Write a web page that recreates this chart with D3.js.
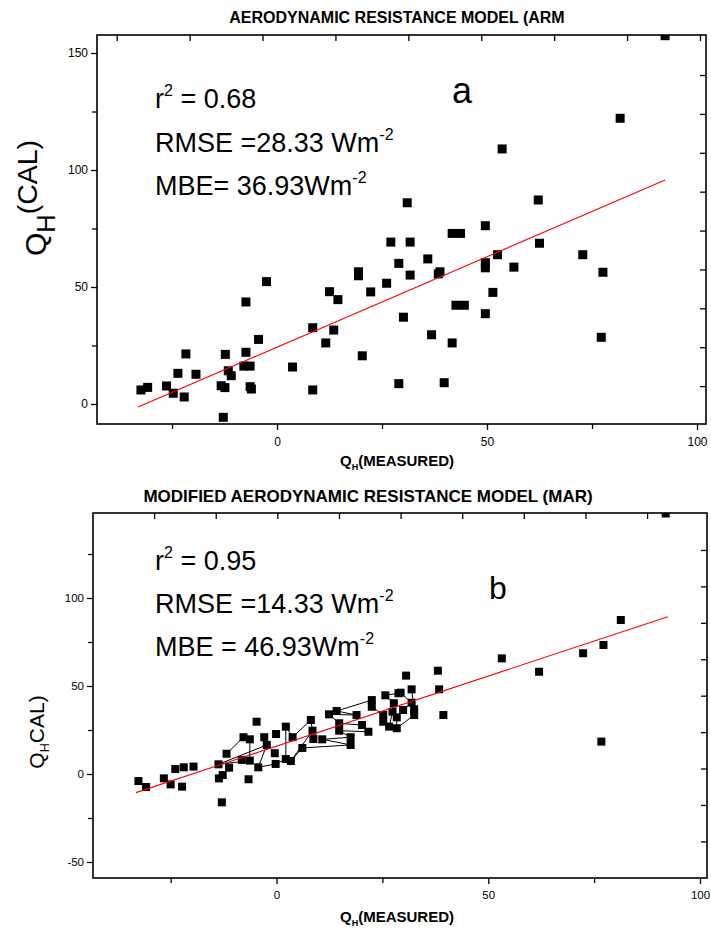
<!DOCTYPE html>
<html><head><meta charset="utf-8">
<script src="https://cdn.jsdelivr.net/npm/d3@7"></script>
<style>
body{margin:0;background:#fff;}
svg{display:block;font-family:"Liberation Sans",Arial,sans-serif;}
</style></head><body>
<svg id="c" width="711" height="943"></svg>
<script>
// ---------- DATA ----------
// Panel a: ARM
const ARM_X = [-32.4,-30.8,-26.3,-24.7,-23.6,-22.1,-21.7,-19.3,-13.3,-12.4,-12.8,-12.3,-11.6,-10.9,-7.9,-6.4,-7.4,-7.4,-6.4,-6.1,-4.4,-2.5,3.7,8.5,8.5,11.6,13.5,12.5,14.5,19.4,19.4,20.3,22.3,26.1,27.1,29.0,30.1,29.0,31.7,31.7,35.9,36.8,38.4,38.8,39.8,41.7,43.7,41.7,42.6,44.6,49.6,49.6,49.6,49.6,51.4,52.5,56.4,62.5,72.8,77.6,77.2,31.0,53.6,62.2,81.7,92.4];
const ARM_Y = [6.0,7.1,7.7,4.6,13.1,3.0,21.4,12.7,7.8,7.0,-5.7,21.2,14.2,12.1,16.2,16.2,22.1,43.6,7.4,6.4,27.6,52.3,15.8,32.6,6.0,26.1,31.6,48.0,44.6,56.5,54.8,20.6,47.9,51.6,69.2,60.1,37.1,8.7,69.2,55.1,62.0,29.6,55.6,56.5,9.1,72.9,72.9,26.1,42.2,42.2,76.2,60.4,58.2,38.6,47.7,63.8,58.5,68.7,63.8,56.3,28.5,86.0,109.0,87.2,122.1,157.4];
const ARM_FIT_X = [-33.1, 92.4];
const ARM_FIT_Y = [-1.3, 95.7];

// Panel b: MAR
const MAR_X = [-32.6,-30.8,-26.6,-25.0,-23.9,-21.9,-22.3,-19.6,-13.7,-12.9,-13.6,-12.7,-11.8,-11.2,-6.6,-7.8,-6.3,-4.7,-8.2,-6.3,-4.3,-2.9,-2.3,-0.1,-0.4,-0.2,2.2,2.2,3.4,3.8,6.1,8.1,8.5,8.7,10.8,12.4,14.2,14.8,14.8,17.5,17.5,18.9,20.2,21.7,22.5,22.5,25.7,25.2,25.2,26.6,27.7,28.4,28.8,27.4,30.6,29.3,31.9,38.1,38.4,29.9,31.9,32.5,32.5,28.4,39.4,62.0,53.2,76.7,91.9,81.3,77.2,72.4];
const MAR_Y = [-4.0,-7.4,-2.5,-5.9,2.8,3.8,-7.2,4.2,5.5,-16.1,-2.5,-0.6,11.5,3.6,-3.0,20.9,19.7,29.7,8.0,7.6,3.8,20.9,16.5,22.7,11.8,5.7,26.9,8.5,7.4,20.9,14.8,30.7,24.6,19.9,19.7,33.9,35.8,28.8,24.6,16.5,20.9,33.5,27.8,24.0,42.0,38.2,44.7,33.5,29.7,26.9,40.2,26.0,45.9,35.4,55.9,46.2,48.1,58.7,48.1,36.4,40.5,36.8,33.5,32.2,33.5,58.1,65.7,18.4,148.0,87.5,73.3,68.6];
// order in which the black line joins the points
const MAR_LINE_ORDER = [12,15,16,19,8,22,20,25,27,26,29,31,32,28,30,39,34,40,38,43,42,37,35,41,36,44,45,47,48,49,53,50,46,52,55,60,59,63,51,62,61,56];
const MAR_FIT_X = [-33.2, 92.4];
const MAR_FIT_Y = [-10.6, 89.4];

// Tick labels
const X_MAJOR = [0, 50, 100];
const X_MINOR = [-25, 25, 75];
const ARM_Y_MAJOR = [0, 50, 100, 150];
const ARM_Y_MINOR = [25, 75, 125];
const MAR_Y_MAJOR = [-50, 0, 50, 100];
const MAR_Y_MINOR = [-25, 25, 75, 125];

const TITLE_A = "AERODYNAMIC RESISTANCE MODEL (ARM";
const TITLE_B = "MODIFIED AERODYNAMIC RESISTANCE MODEL (MAR)";
const STATS_A = [["r","2"," = 0.68"],["RMSE =28.33 Wm","-2",""],["MBE= 36.93Wm","-2",""]];
const STATS_B = [["r","2"," = 0.95"],["RMSE =14.33 Wm","-2",""],["MBE = 46.93Wm","-2",""]];

// ---------- DRAW ----------
const svg = d3.select("#c");
const fmt = d => String(d);

function panel(cfg) {
  const g = svg.append("g");
  const x = d3.scaleLinear().domain(cfg.xDomain).range([cfg.left, cfg.right]);
  const y = d3.scaleLinear().domain(cfg.yDomain).range([cfg.bottom, cfg.top]);
  const clipId = "clip" + cfg.id;
  svg.append("clipPath").attr("id", clipId).append("rect")
    .attr("x", cfg.left).attr("y", cfg.top)
    .attr("width", cfg.right - cfg.left).attr("height", cfg.bottom - cfg.top);

  // bottom axis: major with labels, minor without
  const ax = g.append("g").attr("transform", `translate(0,${cfg.bottom})`)
    .call(d3.axisBottom(x).tickValues(X_MAJOR).tickSize(6).tickPadding(7).tickFormat(fmt));
  ax.select(".domain").remove();
  ax.selectAll("text").attr("font-size", cfg.tickFont).attr("font-family", "Liberation Sans, Arial, sans-serif");
  ax.selectAll("line").attr("stroke-width", 1.3);
  const axm = g.append("g").attr("transform", `translate(0,${cfg.bottom})`)
    .call(d3.axisBottom(x).tickValues(X_MINOR).tickSize(5).tickFormat(""));
  axm.select(".domain").remove();
  axm.selectAll("line").attr("stroke-width", 1.3);

  // left axis
  const ay = g.append("g").attr("transform", `translate(${cfg.left},0)`)
    .call(d3.axisLeft(y).tickValues(cfg.yMajor).tickSize(6).tickPadding(3).tickFormat(fmt));
  ay.select(".domain").remove();
  ay.selectAll("text").attr("font-size", cfg.tickFont).attr("font-family", "Liberation Sans, Arial, sans-serif");
  ay.selectAll("line").attr("stroke-width", 1.3);
  const aym = g.append("g").attr("transform", `translate(${cfg.left},0)`)
    .call(d3.axisLeft(y).tickValues(cfg.yMinor).tickSize(5).tickFormat(""));
  aym.select(".domain").remove();
  aym.selectAll("line").attr("stroke-width", 1.3);

  // top and right inward ticks
  const at = g.append("g").attr("transform", `translate(0,${cfg.top})`)
    .call(d3.axisTop(x).tickValues(cfg.topTicks).tickSize(-6).tickFormat(""));
  at.select(".domain").remove();
  at.selectAll("line").attr("stroke-width", 1.3);
  const ar = g.append("g").attr("transform", `translate(${cfg.right},0)`)
    .call(d3.axisRight(y).tickValues(cfg.rightTicks).tickSize(-6).tickFormat(""));
  ar.select(".domain").remove();
  ar.selectAll("line").attr("stroke-width", 1.3);

  // frame
  g.append("rect").attr("x", cfg.left).attr("y", cfg.top)
    .attr("width", cfg.right - cfg.left).attr("height", cfg.bottom - cfg.top)
    .attr("fill", "none").attr("stroke", "#000").attr("stroke-width", 1.6);

  const plot = g.append("g").attr("clip-path", `url(#${clipId})`);

  // connecting line (panel b)
  if (cfg.lineOrder) {
    plot.append("path")
      .datum(cfg.lineOrder.map(i => [cfg.xs[i], cfg.ys[i]]))
      .attr("fill", "none").attr("stroke", "#000").attr("stroke-width", 1)
      .attr("d", d3.line().x(d => x(d[0])).y(d => y(d[1])));
  }

  // points
  const s = cfg.sq;
  plot.selectAll("rect.pt").data(cfg.xs.map((v, i) => [v, cfg.ys[i]])).join("rect")
    .attr("class", "pt")
    .attr("x", d => x(d[0]) - s / 2).attr("y", d => y(d[1]) - s / 2)
    .attr("width", s).attr("height", s).attr("fill", "#000");

  // regression line
  plot.append("path")
    .datum(cfg.fitX.map((v, i) => [v, cfg.fitY[i]]))
    .attr("fill", "none").attr("stroke", "#ff0000").attr("stroke-width", 1.1)
    .attr("d", d3.line().x(d => x(d[0])).y(d => y(d[1])));

  // title
  g.append("text").attr("x", cfg.titleX).attr("y", cfg.titleY)
    .attr("text-anchor", "middle").attr("font-weight", "bold")
    .attr("font-size", cfg.titleFont).text(cfg.title);

  // stats
  cfg.stats.forEach((st, i) => {
    const t = g.append("text").attr("x", cfg.statsX).attr("y", cfg.statsY + i * cfg.statsDy)
      .attr("font-size", 27);
    t.append("tspan").text(st[0]);
    t.append("tspan").attr("font-size", 16).attr("dy", -12).text(st[1]);
    if (st[2]) t.append("tspan").attr("dy", 12).text(st[2]);
  });

  // panel letter
  g.append("text").attr("x", cfg.letterX).attr("y", cfg.letterY)
    .attr("font-size", cfg.letterFont).text(cfg.letter);

  // x title
  const xt = g.append("text").attr("x", cfg.xTitleX).attr("y", cfg.xTitleY)
    .attr("text-anchor", "middle").attr("font-weight", "bold").attr("font-size", 15);
  xt.append("tspan").text("Q");
  xt.append("tspan").attr("font-size", 9).attr("dy", 4).text("H");
  xt.append("tspan").attr("dy", -4).text("(MEASURED)");

  // y title
  const yt = g.append("text")
    .attr("transform", `translate(${cfg.yTitleX},${cfg.yTitleY}) rotate(-90)`)
    .attr("text-anchor", "middle").attr("font-size", cfg.yTitleFont);
  yt.append("tspan").text("Q");
  yt.append("tspan").attr("font-size", cfg.yTitleFont * cfg.subScale).attr("dy", cfg.subDy).text("H");
  yt.append("tspan").attr("font-size", cfg.yTitleFont * cfg.restScale).attr("dy", cfg.restDy).text(cfg.yRest);
}

panel({
  id: "a", left: 97, right: 706, top: 35, bottom: 424,
  xDomain: [-42.86, 102.14], yDomain: [-8.55, 157.7],
  yMajor: ARM_Y_MAJOR, yMinor: ARM_Y_MINOR,
  topTicks: d3.range(9).map(i => -38.17 + i * 17.36),
  rightTicks: d3.range(9).map(i => 140.6 - i * 16.62),
  xs: ARM_X, ys: ARM_Y, sq: 9, fitX: ARM_FIT_X, fitY: ARM_FIT_Y,
  tickFont: 12, title: TITLE_A, titleX: 397, titleY: 23, titleFont: 16,
  stats: STATS_A, statsX: 155, statsY: 108, statsDy: 43.5,
  letter: "a", letterX: 452, letterY: 103, letterFont: 36,
  xTitleX: 397, xTitleY: 466,
  yTitleX: 46, yTitleY: 198, yTitleFont: 30, subScale: 0.85, subDy: 9, restScale: 0.95, restDy: -18, yRest: "(CAL)"
});

panel({
  id: "b", left: 93, right: 707, top: 513, bottom: 878,
  xDomain: [-43.33, 101.65], yDomain: [-59.1, 148.3],
  yMajor: MAR_Y_MAJOR, yMinor: MAR_Y_MINOR,
  topTicks: d3.range(9).map(i => -28.9 + i * 14.55),
  rightTicks: d3.range(9).map(i => 127.3 - i * 20.7),
  xs: MAR_X, ys: MAR_Y, sq: 8, fitX: MAR_FIT_X, fitY: MAR_FIT_Y, lineOrder: MAR_LINE_ORDER,
  tickFont: 11.5, title: TITLE_B, titleX: 368, titleY: 502, titleFont: 17,
  stats: STATS_B, statsX: 155, statsY: 570, statsDy: 43,
  letter: "b", letterX: 489, letterY: 599, letterFont: 32,
  xTitleX: 397, xTitleY: 922,
  yTitleX: 44, yTitleY: 732, yTitleFont: 21, subScale: 0.6, subDy: 5, restScale: 1, restDy: -5, yRest: "CAL)"
});
</script>
</body></html>
